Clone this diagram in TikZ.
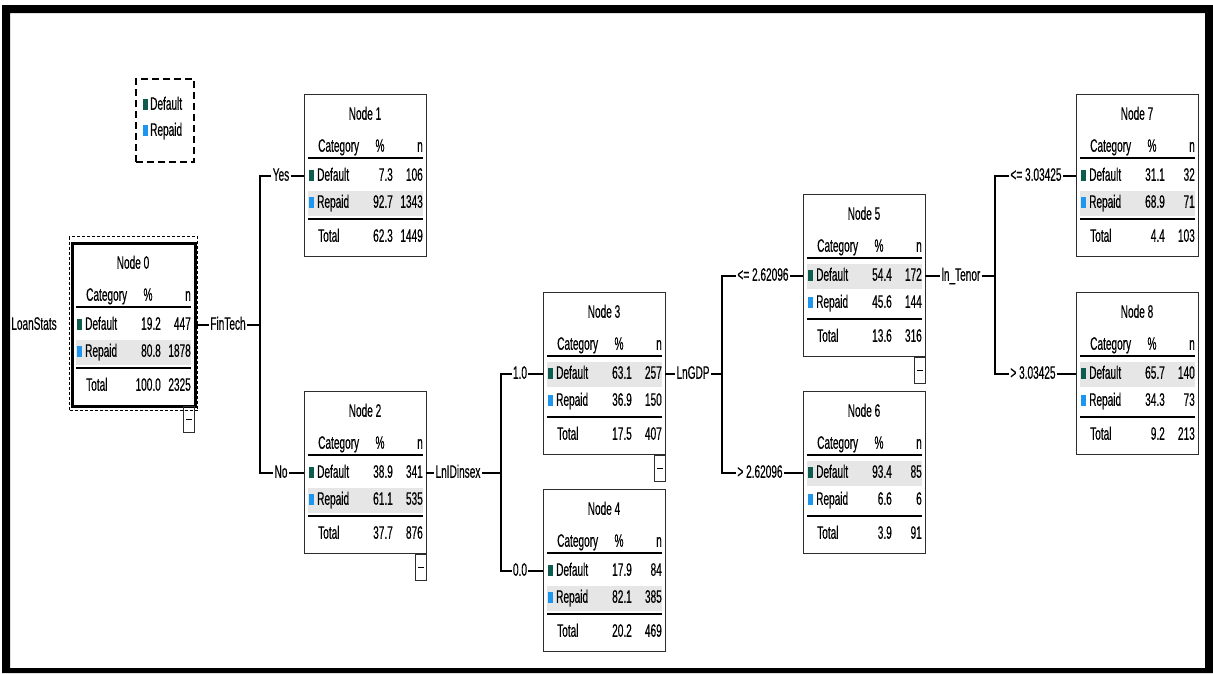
\documentclass[tikz,border=0pt]{standalone}
\usepackage{fontspec}
\setmainfont{Liberation Sans}[FakeStretch=0.56,FakeBold=0.4]
\usetikzlibrary{calc}
\definecolor{cdef}{RGB}{14,92,78}
\definecolor{crep}{RGB}{30,150,240}
\definecolor{chl}{RGB}{230,230,230}
\definecolor{cbox}{RGB}{45,45,45}
\tikzset{
 txt/.style={inner sep=0pt, font=\fontsize{18}{20}\selectfont, text height=13pt, text depth=3.5pt},
 tbox/.style={draw=cbox, line width=1.2pt, minimum width=122pt, minimum height=162pt, inner sep=0pt, anchor=north west},
 rule/.style={line width=1.5pt},
 dblrule/.style={line width=2.5pt},
 conn/.style={line width=1.2pt},
 lbl/.style={txt, inner sep=1.2pt},
 minusbox/.style={draw=cbox, line width=1pt, minimum width=11pt, minimum height=26pt, inner sep=0pt, anchor=north east},
}
\newcommand\ttot[2]{%
  \node[txt,anchor=west] (\curnode-s1) at (14,143) {Total};
  \node[txt,anchor=east] (\curnode-s2) at (89,143) {#1};
  \node[txt,anchor=east] (\curnode-s3) at (119,143) {#2};}
\newcommand\tnode[9]{%
 \def\curnode{#1}%
 \node[tbox] (#1) at (#2) {};
 \begin{scope}[shift={(#1.north west)}]
  \fill[chl] (4,#4-12.5) rectangle (119,#4+12.5);
  \node[txt] (#1-t) at (61,21) {Node #3};
  \node[txt,anchor=west] (#1-h1) at (14,53) {Category};
  \node[txt] (#1-h2) at (76,53) {\%};
  \node[txt,anchor=east] (#1-h3) at (119,53) {n};
  \draw[rule] (4,64) -- (119,64);
  \fill[cdef] (5,76) rectangle (10,87);
  \node[txt,anchor=west] (#1-d1) at (13,82) {Default};
  \node[txt,anchor=east] (#1-d2) at (89,82) {#5};
  \node[txt,anchor=east] (#1-d3) at (119,82) {#6};
  \fill[crep] (5,103) rectangle (10,114);
  \node[txt,anchor=west] (#1-r1) at (13,109) {Repaid};
  \node[txt,anchor=east] (#1-r2) at (89,109) {#7};
  \node[txt,anchor=east] (#1-r3) at (119,109) {#8};
  \draw[dblrule] (4,125) -- (119,125);
  \ttot#9
  \coordinate (#1-in) at (0,82);
  \coordinate (#1-out) at (122,82);
 \end{scope}}
\newcommand\minusmark[2]{%
 \node[minusbox] (#1) at (#2.south east) {};
 \draw[line width=1.3pt] ($(#1.center)+(-3,0)$) -- ($(#1.center)+(3,0)$);}
\begin{document}
\begin{tikzpicture}[x=1pt,y=-1pt]
\useasboundingbox (0,0) rectangle (1213,673);
% frame
\fill[black,even odd rule] (2,5) rectangle (1213,673) (10,13) rectangle (1205,668);
% legend
\node[draw,dashed,dash pattern=on 7pt off 4pt,line width=1.1pt,minimum width=58pt,minimum height=83pt,inner sep=0pt] (legend) at (165,120.5) {};
\fill[cdef] (143,99) rectangle (148,110);
\node[txt,anchor=west] (legD) at (150,105) {Default};
\fill[crep] (143,125) rectangle (148,136);
\node[txt,anchor=west] (legR) at (150,131) {Repaid};
% nodes
\tnode{n0}{72,243}{0}{109}{19.2}{447}{80.8}{1878}{{100.0}{2325}}
\draw[line width=3pt] (n0.north west) rectangle (n0.south east);
\node[draw,dash pattern=on 3pt off 2pt,line width=1pt,minimum width=128pt,minimum height=174pt,inner sep=0pt,anchor=north west] (n0sel) at (69,236) {};
\tnode{n1}{304,94}{1}{109}{7.3}{106}{92.7}{1343}{{62.3}{1449}}
\tnode{n2}{304,391}{2}{109}{38.9}{341}{61.1}{535}{{37.7}{876}}
\tnode{n3}{543,292}{3}{82}{63.1}{257}{36.9}{150}{{17.5}{407}}
\tnode{n4}{543,489}{4}{109}{17.9}{84}{82.1}{385}{{20.2}{469}}
\tnode{n5}{803,194}{5}{82}{54.4}{172}{45.6}{144}{{13.6}{316}}
\tnode{n6}{803,391}{6}{82}{93.4}{85}{6.6}{6}{{3.9}{91}}
\tnode{n7}{1076,94}{7}{109}{31.1}{32}{68.9}{71}{{4.4}{103}}
\tnode{n8}{1076,292}{8}{82}{65.7}{140}{34.3}{73}{{9.2}{213}}
\minusmark{m0}{n0}
\minusmark{m2}{n2}
\minusmark{m3}{n3}
\minusmark{m5}{n5}
% root label
\node[lbl] (lLoan) at ($(n0-in)+(-38,0)$) {LoanStats};
% split 1
\node[lbl] (lFin) at ($(n0-out)+(34,0)$) {FinTech};
\path (n0-out) ++(66,0) coordinate (j1);
\node[lbl] (lYes) at ($(n1-in)+(-23,0)$) {Yes};
\node[lbl] (lNo) at ($(n2-in)+(-23,0)$) {No};
\draw[conn] (n0-out) -- (lFin);
\draw[conn] (lFin) -- (j1);
\draw[conn] (lYes) -| (j1) |- (lNo);
\draw[conn] (lYes) -- (n1-in);
\draw[conn] (lNo) -- (n2-in);
% split 2
\node[lbl] (lLnI) at ($(n2-out)+(32,0)$) {LnIDinsex};
\path (n2-out) ++(75,0) coordinate (j2);
\node[lbl] (l10) at ($(n3-in)+(-23,0)$) {1.0};
\node[lbl] (l00) at ($(n4-in)+(-23,0)$) {0.0};
\draw[conn] (n2-out) -- (lLnI);
\draw[conn] (lLnI) -- (j2);
\draw[conn] (l10) -| (j2) |- (l00);
\draw[conn] (l10) -- (n3-in);
\draw[conn] (l00) -- (n4-in);
% split 3
\node[lbl] (lGDP) at ($(n3-out)+(28,0)$) {LnGDP};
\path (n3-out) ++(57,0) coordinate (j3);
\node[lbl] (lLe1) at ($(n5-in)+(-40,0)$) {<= 2.62096};
\node[lbl] (lGt1) at ($(n6-in)+(-43,0)$) {> 2.62096};
\draw[conn] (n3-out) -- (lGDP);
\draw[conn] (lGDP) -- (j3);
\draw[conn] (lLe1) -| (j3) |- (lGt1);
\draw[conn] (lLe1) -- (n5-in);
\draw[conn] (lGt1) -- (n6-in);
% split 4
\node[lbl] (lTen) at ($(n5-out)+(36,0)$) {ln\_Tenor};
\path (n5-out) ++(70,0) coordinate (j4);
\node[lbl] (lLe2) at ($(n7-in)+(-40,0)$) {<= 3.03425};
\node[lbl] (lGt2) at ($(n8-in)+(-43,0)$) {> 3.03425};
\draw[conn] (n5-out) -- (lTen);
\draw[conn] (lTen) -- (j4);
\draw[conn] (lLe2) -| (j4) |- (lGt2);
\draw[conn] (lLe2) -- (n7-in);
\draw[conn] (lGt2) -- (n8-in);
\end{tikzpicture}
\end{document}
